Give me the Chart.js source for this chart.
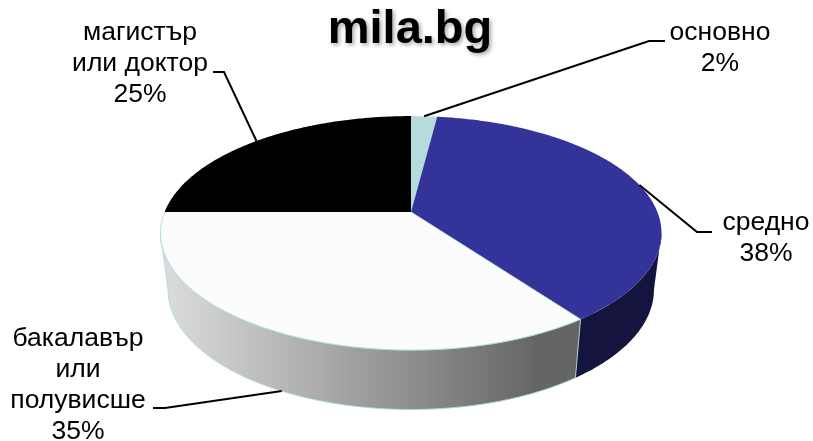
<!DOCTYPE html>
<html>
<head>
<meta charset="utf-8">
<title>mila.bg</title>
<script src="https://cdn.jsdelivr.net/npm/chart.js@4"></script>
<style>
  html, body { margin: 0; padding: 0; background: #fff; }
  canvas { display: block; }
</style>
</head>
<body>
<canvas id="pie" width="813" height="441"></canvas>
<script>
const categories = [['основно'], ['средно'], ['бакалавър', 'или', 'полувисше'], ['магистър', 'или доктор']];
const shares = [2, 38, 35, 25];
const faceColors = ['#b6dbdc', '#333399', '#fcfcfc', '#000000'];

// perspective of the tilted disc: top rim and bottom rim
const topRim = { cx: 411, cy: 212, a: 113.2, b: 246.4, k: 0.18 };
const bottomRim = { cx: 411, cy: 268, a: 116, b: 239, k: 0.18 };
const edgeColor = 'rgba(170,215,220,0.9)';

// label block: centre x, first line y, leader elbow, leader end
const labelLayout = [
  { x: 720, y: 33, elbow: [649, 41], end: [665, 41], rim: topRim },
  { x: 766, y: 223, elbow: [697, 232], end: [712, 232], rim: topRim },
  { x: 78, y: 339, elbow: [165, 408], end: [153, 408], rim: bottomRim },
  { x: 140, y: 33, elbow: [224, 72], end: [213, 72], rim: topRim }
];

function project(rim, angle) {
  const w = 1 - rim.k * Math.sin(angle);
  return [rim.cx + rim.b * Math.cos(angle) / w, rim.cy + rim.a * Math.sin(angle) / w];
}

function traceRim(ctx, rim, from, to) {
  const steps = Math.max(2, Math.ceil(Math.abs(to - from) / 0.01));
  for (let i = 0; i <= steps; i++) {
    const p = project(rim, from + (to - from) * i / steps);
    ctx.lineTo(p[0], p[1]);
  }
}

// pie slice seen through the perspective above
class Arc3D extends Chart.ArcElement {
  static id = 'arc3d';
  draw(ctx) {
    const { startAngle, endAngle } = this.getProps(['startAngle', 'endAngle'], true);
    ctx.save();
    ctx.beginPath();
    ctx.moveTo(topRim.cx, topRim.cy);
    traceRim(ctx, topRim, startAngle, endAngle);
    ctx.closePath();
    ctx.fillStyle = this.options.backgroundColor;
    ctx.fill();
    ctx.restore();
  }
}

class Pie3D extends Chart.PieController {
  static id = 'pie3d';
  static defaults = { dataElementType: 'arc3d' };
}

Chart.register(Arc3D, Pie3D);

const sideWalls = {
  id: 'sideWalls',
  beforeDraw(chart) {
    chart.ctx.shadowColor = 'rgba(0,0,0,0.35)';
    chart.ctx.shadowBlur = 4;
    chart.ctx.shadowOffsetX = 2;
    chart.ctx.shadowOffsetY = 2;
  },
  beforeDatasetsDraw(chart) {
    const ctx = chart.ctx;
    ctx.shadowColor = 'transparent';
    ctx.shadowBlur = 0;
    ctx.shadowOffsetX = 0;
    ctx.shadowOffsetY = 0;
    const gray = ctx.createLinearGradient(165, 0, 540, 0);
    gray.addColorStop(0, '#dcdcdc');
    gray.addColorStop(1, '#656565');
    const wallFills = [null, '#14143f', gray, null];
    // the wall shows between the two points where the rim turns back
    const turn = Math.asin(topRim.k);
    chart.getDatasetMeta(0).data.forEach((arc, i) => {
      if (!wallFills[i]) return;
      const from = Math.max(arc.startAngle, turn);
      const to = Math.min(arc.endAngle, Math.PI - turn);
      ctx.save();
      ctx.beginPath();
      traceRim(ctx, topRim, from, to);
      traceRim(ctx, bottomRim, to, from);
      ctx.closePath();
      ctx.fillStyle = wallFills[i];
      ctx.fill();
      if (i === 2) {
        ctx.strokeStyle = edgeColor;
        ctx.lineWidth = 1;
        ctx.stroke();
      }
      ctx.restore();
    });
  },
  afterDatasetsDraw(chart) {
    const ctx = chart.ctx;
    const arcs = chart.getDatasetMeta(0).data;
    // light edge round the white slice
    ctx.save();
    ctx.beginPath();
    ctx.moveTo(topRim.cx, topRim.cy);
    traceRim(ctx, topRim, arcs[2].startAngle, arcs[2].endAngle);
    ctx.strokeStyle = edgeColor;
    ctx.lineWidth = 1;
    ctx.stroke();
    ctx.restore();

    ctx.save();
    ctx.fillStyle = '#000';
    ctx.strokeStyle = '#000';
    ctx.lineWidth = 2;
    ctx.font = '26.5px "Liberation Sans", Arial, sans-serif';
    ctx.textAlign = 'center';
    ctx.textBaseline = 'middle';
    arcs.forEach((arc, i) => {
      const l = labelLayout[i];
      const start = project(l.rim, (arc.startAngle + arc.endAngle) / 2);
      ctx.beginPath();
      ctx.moveTo(start[0], start[1]);
      ctx.lineTo(l.elbow[0], l.elbow[1]);
      ctx.lineTo(l.end[0], l.end[1]);
      ctx.stroke();
      const lines = categories[i].concat(shares[i] + '%');
      lines.forEach((text, n) => ctx.fillText(text, l.x, l.y + n * 31));
    });
    ctx.restore();
  }
};

new Chart(document.getElementById('pie').getContext('2d'), {
  type: 'pie3d',
  data: {
    labels: categories.map(c => c.join(' ')),
    datasets: [{ data: shares, backgroundColor: faceColors, borderWidth: 0 }]
  },
  options: {
    responsive: false,
    animation: false,
    layout: { padding: { left: 7 } },
    plugins: {
      legend: { display: false },
      tooltip: { enabled: false },
      title: {
        display: true,
        text: 'mila.bg',
        color: '#000',
        font: { family: '"Liberation Sans", Arial, sans-serif', size: 47, weight: 'bold' },
        padding: { top: 2, bottom: 0 }
      }
    }
  },
  plugins: [sideWalls]
});
</script>
</body>
</html>
